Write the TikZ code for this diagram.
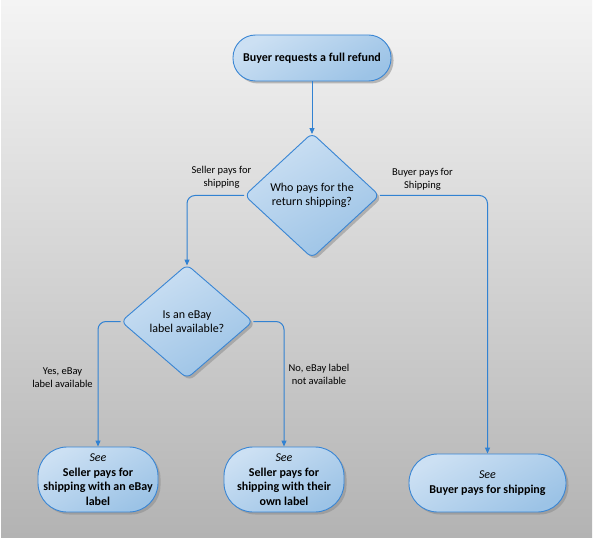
\documentclass[tikz,border=0pt]{standalone}
\usepackage{fontspec}
\setmainfont{Carlito}
\usetikzlibrary{shapes.geometric,shapes.misc,arrows.meta,shadows}
\definecolor{lineblue}{HTML}{3282D2}
\definecolor{edgeblue}{HTML}{3A86D4}
\definecolor{filltop}{HTML}{CCE0F3}
\definecolor{fillbot}{HTML}{9CC3E6}
\definecolor{bgtop}{HTML}{F4F4F4}
\definecolor{bgbot}{HTML}{B3B3B3}
\definecolor{shadowgray}{HTML}{8C8C8C}
\begin{document}
\begin{tikzpicture}[x=1pt,y=-1pt,
  nodebase/.style={draw=edgeblue, line width=0.9pt, top color=filltop, bottom color=fillbot, shading angle=30,
    drop shadow={shadow xshift=2.5pt, shadow yshift=-2.5pt, fill=shadowgray, opacity=0.55},
    align=center, inner sep=0pt, font=\fontsize{12}{14.6}\selectfont},
  term/.style={nodebase, rectangle},
  dia/.style={nodebase, diamond, rounded corners=6pt},
  lbl/.style={align=center, inner sep=0pt, font=\fontsize{10.5}{13}\selectfont},
  conn/.style={draw=lineblue, line width=1pt, rounded corners=8pt, -{Triangle[length=6pt,width=5pt]}},
  todia/.style={shorten >=-1.5pt}
]
\useasboundingbox (0,0) rectangle (594,540);
\fill[white] (0,0) rectangle (594,540);
\shade[top color=bgtop, bottom color=bgbot] (1,1) rectangle (592,537);

\node[term, rounded corners=22.5pt, minimum width=158pt, minimum height=46pt] (start) at (312,58) {\textbf{Buyer requests a full refund}};
\node[dia, minimum width=135pt, minimum height=125pt] (d1) at (312,195.5) {Who pays for the\\return shipping?};
\node[dia, minimum width=132pt, minimum height=114pt] (d2) at (187,321.5) {Is an eBay\\label available?};
\node[term, rounded corners=29pt, minimum width=120pt, minimum height=65pt] (b1) at (98,479.5) {\textit{See}\\\textbf{Seller pays for}\\\textbf{shipping with an eBay}\\\textbf{label}};
\node[term, rounded corners=29pt, minimum width=120pt, minimum height=65pt] (b2) at (284,479.5) {\textit{See}\\\textbf{Seller pays for}\\\textbf{shipping with their}\\\textbf{own label}};
\node[term, rounded corners=28.5pt, minimum width=157pt, minimum height=58pt] (b3) at (487.5,483) {\textit{See}\\\textbf{Buyer pays for shipping}};

\draw[conn, todia] (start.south) -- (d1.north);
\draw[conn, todia] (d1.west) -| (d2.north);
\draw[conn] (d1.east) -| (b3.north);
\draw[conn] (d2.west) -| (b1.north);
\draw[conn] (d2.east) -| (b2.north);

\node[lbl] (l1) at (221.5,177) {Seller pays for\\shipping};
\node[lbl] (l2) at (422.5,179) {Buyer pays for\\Shipping};
\node[lbl] (l3) at (62.5,378) {Yes, eBay\\label available};
\node[lbl] (l4) at (319,374) {No, eBay label\\not available};
\end{tikzpicture}
\end{document}
